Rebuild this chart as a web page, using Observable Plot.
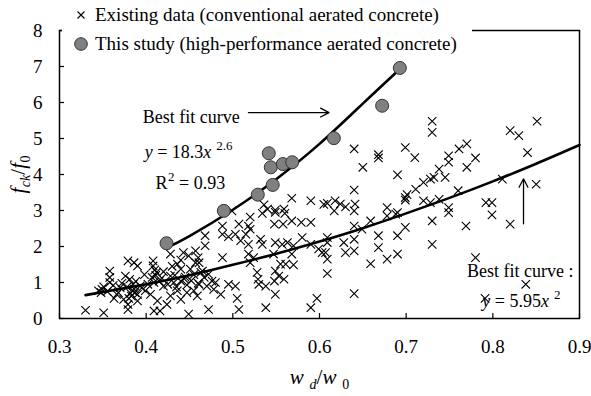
<!DOCTYPE html>
<html><head><meta charset="utf-8">
<script src="https://cdn.jsdelivr.net/npm/d3@7"></script>
<script src="https://cdn.jsdelivr.net/npm/@observablehq/plot@0.6"></script>
<style>
body{margin:0;background:#fff;}
#wrap{position:relative;width:591px;height:396px;font-family:"Liberation Serif","Times New Roman",serif;}
#legend{position:absolute;left:62px;top:0;width:410px;height:56px;background:#fff;font-size:19px;color:#000;}
#legend .row{position:absolute;left:0;height:22px;line-height:22px;white-space:nowrap;}
#legend svg{position:absolute;left:12px;top:2px;}
#legend span{position:absolute;left:33px;top:0;}
</style></head><body><div id="wrap"></div>
<script>
// ---- data ----
const xTicks = [0.3, 0.4, 0.5, 0.6, 0.7, 0.8, 0.9];
const yTicks = [0, 1, 2, 3, 4, 5, 6, 7, 8];

// Existing data (conventional aerated concrete): [wd/w0, fck/f0]
const existingPts = [
 [0.330,0.23],[0.351,0.16],[0.379,0.25],[0.409,0.21],[0.416,0.21],[0.449,0.12],[0.349,0.81],[0.348,0.72],
 [0.351,0.88],[0.345,0.77],[0.355,0.75],[0.358,1.32],[0.358,1.14],[0.358,1.00],[0.379,1.60],[0.386,1.55],
 [0.390,1.46],[0.376,1.18],[0.381,1.09],[0.388,1.03],[0.378,0.88],[0.384,0.77],[0.390,0.67],[0.380,0.56],
 [0.390,0.49],[0.379,0.39],[0.370,0.86],[0.366,0.67],[0.374,0.53],[0.363,0.56],[0.408,1.60],[0.408,1.46],
 [0.412,1.28],[0.407,1.14],[0.409,1.00],[0.415,1.04],[0.420,0.90],[0.428,1.18],[0.428,1.79],[0.436,1.51],
 [0.443,1.83],[0.449,1.74],[0.457,1.88],[0.457,1.55],[0.451,1.37],[0.440,1.37],[0.432,1.00],[0.440,1.04],
 [0.447,0.93],[0.436,0.77],[0.428,0.63],[0.440,0.53],[0.447,0.72],[0.455,0.77],[0.424,0.39],[0.413,0.49],
 [0.405,0.67],[0.399,0.77],[0.393,0.90],[0.368,0.72],
 [0.395,0.85],[0.402,0.95],[0.418,1.12],[0.425,0.95],[0.433,1.20],[0.445,1.15],[0.452,1.05],[0.460,0.98],
 [0.385,0.95],[0.372,0.98],[0.362,0.92],[0.398,1.22],[0.420,1.30],[0.435,0.88],[0.383,0.62],[0.387,0.72],
 [0.410,1.35],[0.440,1.62],[0.430,1.45],[0.455,1.22],[0.382,0.70],[0.386,0.82],[0.411,1.20],[0.444,1.10],
 [0.520,2.82],[0.534,2.92],[0.549,2.95],[0.560,2.92],[0.548,2.62],[0.558,2.62],[0.568,2.71],[0.579,2.67],
 [0.590,2.67],[0.488,2.57],[0.488,2.34],[0.507,2.62],[0.518,2.57],[0.520,2.48],[0.515,2.34],[0.503,2.34],
 [0.495,2.27],[0.468,2.30],[0.468,2.02],[0.460,1.69],[0.461,1.55],[0.465,1.32],[0.467,1.14],[0.488,1.69],
 [0.509,2.16],[0.518,2.06],[0.532,2.20],[0.534,2.06],[0.518,1.79],[0.524,1.69],[0.520,1.55],[0.549,2.11],
 [0.557,2.06],[0.563,2.11],[0.570,2.02],[0.568,1.79],[0.580,2.25],[0.590,2.06],[0.603,1.83],[0.547,1.79],
 [0.555,1.51],[0.561,1.51],[0.570,1.49],[0.549,1.32],[0.553,1.18],[0.559,1.09],[0.548,1.04],[0.538,0.90],
 [0.528,1.28],[0.529,1.09],[0.530,0.95],[0.549,0.67],[0.503,0.90],[0.495,0.95],[0.486,0.67],[0.478,0.81],
 [0.476,1.04],[0.472,1.23],[0.463,1.28],[0.461,0.95],[0.459,0.63],[0.505,0.56],[0.507,0.25],[0.472,0.25],
 [0.538,0.30],[0.590,0.30],[0.597,0.56],[0.480,1.00],[0.470,0.90],[0.599,1.93],
 [0.499,2.99],[0.536,3.16],[0.540,3.04],[0.549,3.01],[0.559,3.04],[0.568,3.34],[0.590,3.27],[0.605,3.17],
 [0.730,5.48],[0.730,5.17],[0.640,4.71],[0.668,4.55],[0.668,4.46],[0.650,4.20],[0.699,4.75],[0.710,4.47],
 [0.690,3.99],[0.738,4.15],[0.728,3.87],[0.720,3.78],[0.711,3.59],[0.701,3.44],[0.699,3.36],[0.699,3.29],
 [0.640,3.57],[0.609,3.20],[0.618,3.27],[0.624,3.18],[0.630,3.10],[0.641,3.18],[0.640,2.99],[0.617,2.99],
 [0.678,3.08],[0.690,2.94],[0.720,3.27],[0.728,3.22],[0.738,3.31],[0.732,3.92],[0.745,3.92],
 [0.659,2.71],[0.678,2.85],[0.688,2.90],[0.699,2.53],[0.730,2.71],[0.730,2.06],[0.640,2.57],[0.649,2.48],
 [0.668,2.30],[0.690,2.30],[0.609,2.25],[0.609,2.11],[0.607,1.83],[0.609,1.65],[0.628,2.11],[0.630,1.83],
 [0.640,2.20],[0.640,1.88],[0.668,1.97],[0.659,1.52],[0.678,1.65],[0.690,1.79],[0.609,1.25],[0.640,0.69],
 [0.851,5.48],[0.820,5.22],[0.830,5.08],[0.840,4.61],[0.770,4.85],[0.761,4.71],[0.749,4.52],[0.749,4.34],
 [0.780,4.46],[0.770,4.20],[0.760,3.55],[0.811,3.87],[0.850,3.73],[0.792,3.22],[0.799,3.22],[0.749,3.08],
 [0.749,2.94],[0.769,2.57],[0.799,2.88],[0.820,2.62],[0.780,1.69],[0.838,0.95],[0.791,0.56]
];

// This study (high-performance aerated concrete)
const studyX = [0.4235, 0.4896, 0.5288, 0.546, 0.5438, 0.5577, 0.5685, 0.5415, 0.6165, 0.6723, 0.6927];
const studyY = [2.09, 2.99, 3.44, 3.71, 4.20, 4.29, 4.34, 4.59, 5.01, 5.91, 6.96];

// best fit curves as traced on the picture
const fitHighX = [0.425, 0.45, 0.5, 0.55, 0.6, 0.65, 0.69];
const fitHighY = [1.98, 2.29, 3.02, 3.87, 4.85, 5.97, 6.87];
const fitLowX = [0.33, 0.4, 0.45, 0.5, 0.55, 0.6, 0.65, 0.7, 0.75, 0.8, 0.85, 0.9];
const fitLowY = [0.65, 0.95, 1.2, 1.49, 1.8, 2.14, 2.51, 2.92, 3.35, 3.81, 4.3, 4.82];

// annotations (anchored in data units)
const notesCenter = [
  {x: 0.452, y: 5.60, text: "Best fit curve"},
  {x: 0.449, y: 4.63, text: "*y* = 18.3*x* ^{2.6}"},
  {x: 0.451, y: 3.77, text: "R^{2} = 0.93"}
];
const notesEnd = [
  {x: 0.893, y: 1.32, text: "Best fit curve :"},
  {x: 0.878, y: 0.49, text: "*y* = 5.95*x* ^{2}"}
];
const arrows = [
  {x1: 0.518, y1: 5.72, x2: 0.611, y2: 5.72},
  {x1: 0.8354, y1: 2.63, x2: 0.8354, y2: 3.88}
];
const xLabel = "*w* _{*d*}/*w* _{0}";
const yLabel = "*f*_{*ck*}/*f*_{0}";
const legendItems = ["Existing data (conventional aerated concrete)", "This study (high-performance aerated concrete)"];

// ---- build ----
const existing = existingPts.map(([x, y]) => ({x, y}));
const study = studyX.map((x, i) => ({x, y: studyY[i]}));
const fitHigh = fitHighX.map((x, i) => ({x, y: fitHighY[i]}));
const fitLow = fitLowX.map((x, i) => ({x, y: fitLowY[i]}));

const chart = Plot.plot({
  width: 591, height: 396,
  marginLeft: 59, marginRight: 12, marginTop: 30, marginBottom: 78,
  style: {fontFamily: "Liberation Serif, Times New Roman, serif", fontSize: "19px", color: "#000", background: "#fff", overflow: "visible"},
  x: {domain: [0.3, 0.9]},
  y: {domain: [0, 8]},
  marks: [
    Plot.dot(existing, {x: "x", y: "y", symbol: "times", r: 3.9, stroke: "#000", strokeWidth: 1.1}),
    Plot.line(fitLow, {x: "x", y: "y", curve: "natural", stroke: "#000", strokeWidth: 2.6}),
    Plot.line(fitHigh, {x: "x", y: "y", curve: "natural", stroke: "#000", strokeWidth: 2.6}),
    Plot.dot(study, {x: "x", y: "y", r: 6.5, fill: "#808080", stroke: "#333", strokeWidth: 1}),
    Plot.arrow(arrows, {x1: "x1", y1: "y1", x2: "x2", y2: "y2", stroke: "#000", strokeWidth: 1.3, headLength: 11, headAngle: 55}),
    Plot.text(notesCenter, {x: "x", y: "y", text: "text", textAnchor: "middle", fontSize: 18, fill: "#000"}),
    Plot.text(notesEnd, {x: "x", y: "y", text: "text", textAnchor: "end", fontSize: 18, fill: "#000"}),
    Plot.frame({stroke: "#000", strokeWidth: 1.5}),
    Plot.tickX(xTicks, {x: d => d, stroke: "#000", strokeWidth: 1.2, insetTop: 283}),
    Plot.tickY(yTicks, {y: d => d, stroke: "#000", strokeWidth: 1.2, insetRight: 515}),
    Plot.axisX({ticks: xTicks, tickSize: 0, tickPadding: 21, tickFormat: d3.format(".1f"), fontSize: 19,
      label: xLabel, labelAnchor: "center", labelOffset: 65, labelArrow: "none"}),
    Plot.axisY({ticks: yTicks, tickSize: 0, tickPadding: 17, tickFormat: d => String(d), fontSize: 19,
      label: yLabel, labelAnchor: "center", labelOffset: 49, labelArrow: "none"})
  ]
});

// rich text: *italic*, _{sub}, ^{sup}
function rich(node, s, big) {
  const parts = s.split(/(_\{[^}]*\}|\^\{[^}]*\}|\*[^*]+\*)/).filter(p => p !== "");
  while (node.firstChild) node.removeChild(node.firstChild);
  const sel = d3.select(node);
  if (big) sel.attr("font-size", big);
  let shift = 0;
  for (const p of parts) {
    let txt = p, italic = false, size = null, target = 0, dx = 0;
    if (p.startsWith("_{")) { txt = p.slice(2, -1); size = big ? 14 : 13; target = 5; dx = 0.5; }
    else if (p.startsWith("^{")) { txt = p.slice(2, -1); size = 13; target = -8; dx = 0.5; }
    if (txt.length > 2 && txt.startsWith("*") && txt.endsWith("*")) { txt = txt.slice(1, -1); italic = true; }
    const ts = sel.append("tspan").text(txt);
    if (italic) ts.attr("font-style", "italic");
    if (size) ts.attr("font-size", size);
    const dy = target - shift;
    if (dy) ts.attr("dy", dy);
    shift = target;
    if (dx) ts.attr("dx", dx);
  }
}
d3.select(chart).selectAll("text").each(function() {
  const t = this.textContent;
  if (t === xLabel || t === yLabel) rich(this, t, 21);
  else if (/(\*|_\{|\^\{)/.test(t)) rich(this, t);
});

const wrap = document.getElementById("wrap");
wrap.appendChild(chart);

// legend (overlapping the top frame like the original)
const legend = document.createElement("div");
legend.id = "legend";
legend.innerHTML = `
  <div class="row" style="top:4px"><svg width="14" height="18" viewBox="0 0 14 18"><path d="M3.5,5.5 L10.5,12.5 M10.5,5.5 L3.5,12.5" stroke="#000" stroke-width="1.1"/></svg><span>${legendItems[0]}</span></div>
  <div class="row" style="top:33px"><svg width="16" height="18" viewBox="0 0 16 18"><circle cx="7" cy="9" r="6.3" fill="#808080" stroke="#333" stroke-width="1"/></svg><span>${legendItems[1]}</span></div>`;
wrap.appendChild(legend);
</script></body></html>
